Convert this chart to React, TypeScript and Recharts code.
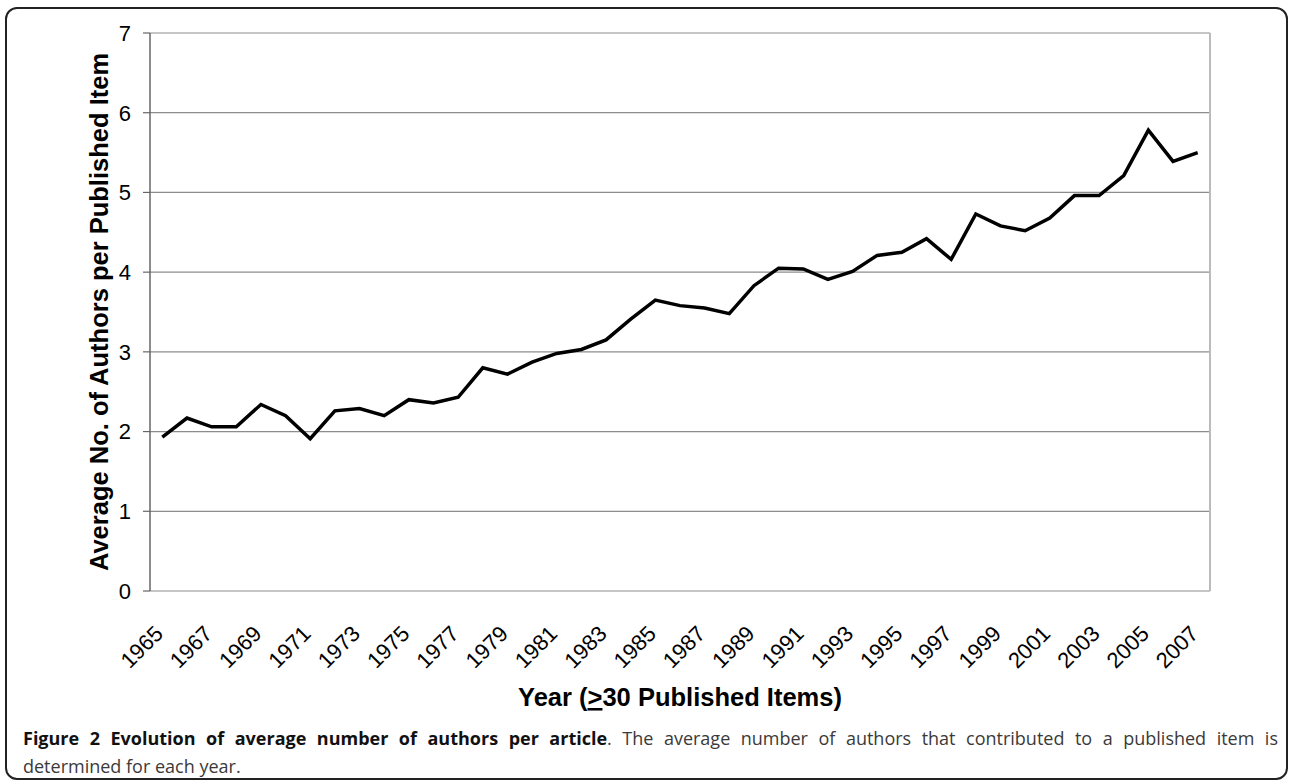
import { CartesianGrid, Label, Line, LineChart, ReferenceLine, XAxis, YAxis } from "recharts";

const years = [
  1965, 1966, 1967, 1968, 1969, 1970, 1971, 1972, 1973, 1974, 1975, 1976, 1977, 1978, 1979,
  1980, 1981, 1982, 1983, 1984, 1985, 1986, 1987, 1988, 1989, 1990, 1991, 1992, 1993, 1994,
  1995, 1996, 1997, 1998, 1999, 2000, 2001, 2002, 2003, 2004, 2005, 2006, 2007,
];

const avgAuthors = [
  1.93, 2.17, 2.06, 2.06, 2.34, 2.2, 1.91, 2.26, 2.29, 2.2, 2.4, 2.36, 2.43, 2.8, 2.72,
  2.87, 2.98, 3.03, 3.15, 3.41, 3.65, 3.58, 3.55, 3.48, 3.83, 4.05, 4.04, 3.91, 4.01, 4.21,
  4.25, 4.42, 4.16, 4.73, 4.58, 4.52, 4.68, 4.96, 4.96, 5.21, 5.78, 5.39, 5.5,
];

const labelYears = [
  1965, 1967, 1969, 1971, 1973, 1975, 1977, 1979, 1981, 1983, 1985, 1987, 1989, 1991, 1993,
  1995, 1997, 1999, 2001, 2003, 2005, 2007,
];

const yTicks = [0, 1, 2, 3, 4, 5, 6, 7];

const FONT = "'Liberation Sans', Arial, sans-serif";

const data = years.map((year, i) => ({ year, avg: avgAuthors[i] }));
// excel-style tick marks sit between the categories
const boundaries = [years[0] - 0.5, ...years.map((y) => y + 0.5)];
const xDomain = [boundaries[0], boundaries[boundaries.length - 1]];

const YearTick = ({ x, y, payload }: any) => (
  <text
    x={x + 2}
    y={y + 44}
    transform={`rotate(-45, ${x + 2}, ${y + 44})`}
    textAnchor="end"
    fontSize={22}
    fontFamily={FONT}
    fill="#000"
  >
    {payload.value}
  </text>
);

const XTitle = ({ viewBox }: any) => (
  <text
    x={viewBox.x + viewBox.width / 2}
    y={viewBox.y + 115}
    textAnchor="middle"
    fontSize={25.5}
    fontWeight="bold"
    fontFamily={FONT}
    fill="#000"
  >
    Year (<tspan style={{ textDecoration: "underline" }}>&gt;</tspan>30 Published Items)
  </text>
);

const YTitle = ({ viewBox }: any) => {
  const cy = viewBox.y + viewBox.height / 2;
  return (
    <text
      x={108}
      y={cy}
      transform={`rotate(-90, 108, ${cy})`}
      textAnchor="middle"
      fontSize={25.5}
      fontWeight="bold"
      fontFamily={FONT}
      fill="#000"
    >
      Average No. of Authors per Published Item
    </text>
  );
};

export default function App() {
  return (
    <div style={{ position: "absolute", left: 0, top: 0, width: 1290, height: 782, background: "#fff" }}>
      <div
        style={{
          position: "absolute",
          left: 5,
          top: 7,
          width: 1283,
          height: 773,
          border: "2px solid #222",
          borderRadius: 12,
          boxSizing: "border-box",
        }}
      />
      <LineChart
        width={1290}
        height={782}
        data={data}
        margin={{ top: 33, right: 80, bottom: 91, left: 0 }}
        style={{ position: "absolute", left: 0, top: 0 }}
      >
        <CartesianGrid xAxisId="labels" vertical={false} stroke="#8c8c8c" strokeWidth={1.2} />
        <XAxis
          xAxisId="ticks"
          type="number"
          dataKey="year"
          domain={xDomain}
          ticks={boundaries}
          interval={0}
          allowDataOverflow
          height={0}
          tickSize={7}
          tickFormatter={() => ""}
          axisLine={{ stroke: "#666", strokeWidth: 1.5 }}
          tickLine={{ stroke: "#666", strokeWidth: 1.2 }}
        />
        <XAxis
          xAxisId="labels"
          type="number"
          dataKey="year"
          domain={xDomain}
          ticks={labelYears}
          interval={0}
          allowDataOverflow
          height={100}
          axisLine={false}
          tickLine={false}
          tickSize={0}
          tickMargin={0}
          tick={(props: any) => <YearTick {...props} />}
        >
          <Label content={<XTitle />} />
        </XAxis>
        <YAxis
          type="number"
          domain={[0, 7]}
          ticks={yTicks}
          interval={0}
          width={150}
          tickSize={7}
          tickMargin={12}
          axisLine={{ stroke: "#666", strokeWidth: 1.5 }}
          tickLine={{ stroke: "#666", strokeWidth: 1.2 }}
          tick={{ fill: "#000", fontSize: 22, fontFamily: FONT }}
        >
          <Label content={<YTitle />} />
        </YAxis>
        <ReferenceLine xAxisId="labels" x={xDomain[1]} stroke="#bbb" strokeWidth={2} />
        <Line
          xAxisId="labels"
          type="linear"
          dataKey="avg"
          stroke="#000"
          strokeWidth={3.5}
          dot={false}
          isAnimationActive={false}
        />
      </LineChart>
      <div
        style={{
          position: "absolute",
          left: 23,
          top: 724,
          width: 1255,
          fontFamily: "'Open Sans', 'Noto Sans', sans-serif",
          fontSize: 18,
          lineHeight: "28px",
          color: "#3a3a3a",
        }}
      >
        <div style={{ textAlign: "justify", textAlignLast: "justify" }}>
          <b style={{ color: "#111" }}>Figure 2 Evolution of average number of authors per article</b>. The average
          number of authors that contributed to a published item is
        </div>
        <div>determined for each year.</div>
      </div>
    </div>
  );
}
